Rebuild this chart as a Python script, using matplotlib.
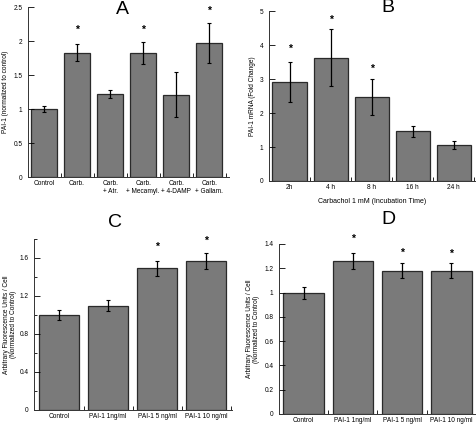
import matplotlib
matplotlib.use("Agg")
import matplotlib.pyplot as plt
from matplotlib.ticker import MultipleLocator, FixedLocator, FuncFormatter
import numpy as np

plt.rcParams['font.family'] = ['Liberation Sans', 'DejaVu Sans']

# panel A
a_labels = ["Control", "Carb.", "Carb.\n+ Atr.", "Carb.\n+ Mecamyl.", "Carb.\n+ 4-DAMP", "Carb.\n+ Gallam."]
a_vals = [1.0, 1.83, 1.22, 1.82, 1.21, 1.97]
a_err = [0.04, 0.13, 0.06, 0.16, 0.33, 0.30]
a_star = [None, 2.17, None, 2.17, None, 2.44]

# panel B
b_labels = ["2h", "4 h", "8 h", "16 h", "24 h"]
b_vals = [2.91, 3.63, 2.48, 1.46, 1.07]
b_err = [0.58, 0.83, 0.53, 0.17, 0.12]
b_star = [3.89, 4.75, 3.30, None, None]

# panel C
c_labels = ["Control", "PAI-1 1ng/ml", "PAI-1 5 ng/ml", "PAI-1 10 ng/ml"]
c_vals = [1.0, 1.10, 1.49, 1.57]
c_err = [0.05, 0.06, 0.08, 0.085]
c_star = [None, None, 1.72, 1.78]

# panel D
d_labels = ["Control", "PAI-1 1ng/ml", "PAI-1 5 ng/ml", "PAI-1 10 ng/ml"]
d_vals = [1.0, 1.26, 1.18, 1.18]
d_err = [0.05, 0.065, 0.06, 0.06]
d_star = [None, 1.44, 1.33, 1.32]

W, H = 477, 424
FS = 4.7
fig = plt.figure(figsize=(W / 100, H / 100), dpi=100)


def px_axes(l, r, t, b):
    return fig.add_axes([l / W, 1 - b / H, (r - l) / W, (b - t) / H])


def panel(ax, labels, vals, err, stars, width, xlim, ylim, ymaj, ymin, ylabel, lpad=3):
    x = np.arange(len(vals))
    ax.bar(x, vals, width=width, color="#7a7a7a", edgecolor="#2a2a2a", linewidth=0.9)
    ax.errorbar(x, vals, yerr=err, fmt="none", ecolor="black", elinewidth=0.9,
                capsize=1.5, capthick=0.8)
    for xi, s in zip(x, stars):
        if s is not None:
            ax.text(xi, s, "*", ha="center", va="center", fontsize=7.5, fontweight="bold")
    ax.set_xlim(*xlim)
    ax.set_ylim(*ylim)
    ax.set_xticks(x)
    ax.set_xticklabels(labels, fontsize=FS, linespacing=1.1)
    ax.tick_params(axis="x", which="major", length=0, pad=2.5)
    ax.xaxis.set_minor_locator(FixedLocator(x + 0.5))
    ax.tick_params(axis="x", which="minor", direction="in", length=3, width=0.6)
    ax.yaxis.set_major_locator(MultipleLocator(ymaj))
    if ymin:
        ax.yaxis.set_minor_locator(MultipleLocator(ymin))
    ax.tick_params(axis="y", which="both", direction="in", width=0.6, labelsize=FS, pad=4)
    ax.tick_params(axis="y", which="major", length=4)
    ax.tick_params(axis="y", which="minor", length=2)
    ax.yaxis.set_major_formatter(FuncFormatter(lambda v, p: "%g" % round(v, 2)))
    ax.set_ylabel(ylabel, fontsize=FS, labelpad=lpad, linespacing=1.1)
    for sp in ["top", "right"]:
        ax.spines[sp].set_visible(False)
    for sp in ["left", "bottom"]:
        ax.spines[sp].set_linewidth(0.7)
        ax.spines[sp].set_color("#333333")


axA = px_axes(28, 229, 7, 177)
panel(axA, a_labels, a_vals, a_err, a_star, 0.79, (-0.485, 5.6), (0, 2.5), 0.5, None,
      "PAI-1 (normalized to control)")

axB = px_axes(269, 475, 11, 181)
panel(axB, b_labels, b_vals, b_err, b_star, 0.83, (-0.5, 4.52), (0, 5), 1, None,
      "PAI-1 mRNA (Fold Change)")
axB.set_xlabel("Carbachol 1 mM (Incubation Time)", fontsize=FS + 0.3, labelpad=5)

axC = px_axes(34, 232, 239, 410)
panel(axC, c_labels, c_vals, c_err, c_star, 0.82, (-0.51, 3.53), (0, 1.8), 0.4, 0.2,
      "Arbitrary Fluorescence Units / Cell\n(Normalized to Control)", lpad=1.5)

axD = px_axes(279, 475, 244, 414)
panel(axD, d_labels, d_vals, d_err, d_star, 0.82, (-0.5, 3.48), (0, 1.4), 0.2, None,
      "Arbitrary Fluorescence Units / Cell\n(Normalized to Control)")

for t, xp, yp in [("A", 122, 9), ("B", 388, 8), ("C", 115, 222), ("D", 388, 220)]:
    fig.text(xp / W, 1 - yp / H, t, ha="center", va="center", fontsize=14)

fig.savefig("out.png", dpi=100)
